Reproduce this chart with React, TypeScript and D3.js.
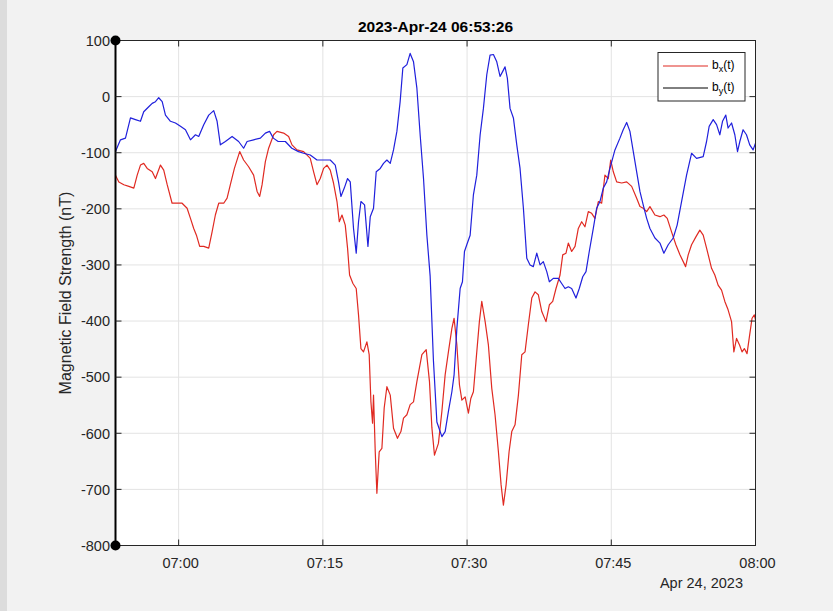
import React from "react";
import * as d3 from "d3";

// minutes after 07:00 on 2023-04-24, and field values in nT
const bxMinutes = [
  -6.57, -6.22, -5.7, -5.18, -4.66, -4.31, -3.97, -3.63, -3.27, -2.75,
  -2.41, -1.89, -1.55, -1.19, -0.68, -0.16, 0.36, 0.88, 1.23, 1.57,
  1.85, 2.19, 2.61, 3.13, 3.48, 3.82, 4.17, 4.69, 5.04, 5.38,
  5.8, 6.35, 6.76, 7.28, 7.8, 8.16, 8.43, 8.68, 9.02, 9.36,
  9.88, 10.23, 10.92, 11.44, 11.79, 12.31, 13.0, 13.69, 14.04, 14.39,
  14.73, 15.08, 15.43, 15.77, 16.11, 16.47, 16.71, 16.99, 17.33, 17.57,
  17.78, 18.13, 18.47, 18.71, 18.96, 19.23, 19.58, 19.82, 20.0, 20.17,
  20.27, 20.45, 20.62, 20.86, 21.14, 21.38, 21.66, 22.01, 22.35, 22.76,
  23.12, 23.39, 23.74, 24.08, 24.43, 24.78, 25.3, 25.75, 26.09, 26.34,
  26.61, 27.02, 27.38, 27.72, 28.06, 28.42, 28.65, 28.94, 29.21, 29.46,
  29.8, 30.14, 30.39, 30.66, 31.01, 31.28, 31.53, 31.88, 32.22, 32.57,
  32.91, 33.26, 33.54, 33.78, 34.06, 34.37, 34.65, 34.99, 35.34, 35.69,
  36.03, 36.37, 36.73, 37.07, 37.41, 37.77, 38.21, 38.56, 38.91, 39.25,
  39.67, 39.95, 40.29, 40.53, 40.88, 41.23, 41.57, 41.92, 42.26, 42.61,
  42.96, 43.3, 43.65, 44.0, 44.34, 44.69, 44.94, 45.21, 45.56, 46.08,
  46.6, 47.12, 47.64, 47.98, 48.32, 48.68, 49.02, 49.54, 50.06, 50.47,
  50.82, 51.27, 51.72, 52.14, 52.73, 53.0, 53.35, 53.8, 54.21, 54.56,
  54.91, 55.43, 55.77, 56.11, 56.47, 56.81, 57.15, 57.51, 57.75, 58.03,
  58.35, 58.6, 58.84, 59.12, 59.39, 59.64, 59.88, 60.0,
];
const bxValues = [
  -140, -152, -157, -160, -163, -140, -122, -119, -128, -134,
  -146, -122, -131, -157, -190, -190, -190, -199, -217, -235,
  -247, -267, -267, -270, -241, -211, -190, -190, -181, -157,
  -128, -98, -113, -125, -140, -169, -178, -157, -116, -92,
  -68, -62, -65, -71, -86, -95, -98, -110, -134, -157,
  -146, -128, -122, -131, -154, -187, -223, -211, -229, -270,
  -318, -333, -342, -389, -449, -455, -437, -460, -544, -582,
  -532, -633, -707, -633, -627, -555, -517, -532, -591, -609,
  -597, -573, -567, -549, -544, -508, -460, -451, -508, -590,
  -639, -618, -561, -496, -455, -413, -395, -443, -514, -541,
  -535, -564, -538, -526, -455, -401, -365, -401, -443, -520,
  -567, -633, -692, -728, -692, -633, -597, -585, -532, -460,
  -455, -407, -359, -348, -353, -383, -401, -371, -365, -342,
  -318, -282, -279, -261, -276, -267, -235, -223, -232, -205,
  -208, -217, -187, -190, -140, -146, -113, -134, -152, -154,
  -152, -160, -181, -196, -199, -205, -196, -211, -214, -211,
  -217, -241, -264, -282, -303, -282, -264, -250, -238, -247,
  -270, -306, -318, -336, -345, -365, -380, -401, -455, -431,
  -443, -455, -449, -458, -425, -395, -389, -398,
];

const byMinutes = [
  -6.57, -6.05, -5.53, -5.01, -4.49, -3.97, -3.63, -3.11, -2.75, -2.41,
  -2.07, -1.71, -1.37, -0.85, -0.33, 0.19, 0.71, 1.23, 1.75, 2.09,
  2.61, 3.13, 3.65, 4.0, 4.34, 4.86, 5.56, 6.24, 6.76, 7.12,
  7.8, 8.5, 9.02, 9.46, 9.85, 10.35, 11.1, 11.77, 12.47, 13.0,
  13.69, 14.39, 15.08, 15.77, 16.29, 16.63, 16.88, 17.23, 17.57, 17.85,
  18.19, 18.47, 18.71, 18.96, 19.34, 19.69, 19.93, 20.27, 20.55, 20.97,
  21.31, 21.66, 22.01, 22.35, 22.7, 23.04, 23.32, 23.74, 24.08, 24.43,
  24.78, 25.12, 25.47, 25.82, 26.16, 26.5, 26.86, 27.38, 27.72, 28.06,
  28.42, 28.65, 28.94, 29.28, 29.52, 29.73, 29.97, 30.32, 30.66, 31.01,
  31.36, 31.7, 32.05, 32.39, 32.74, 33.09, 33.43, 33.71, 33.95, 34.19,
  34.47, 34.82, 35.17, 35.51, 35.86, 36.21, 36.55, 36.89, 37.25, 37.59,
  37.93, 38.29, 38.56, 38.97, 39.49, 39.84, 40.19, 40.53, 40.88, 41.33,
  41.67, 42.03, 42.37, 42.71, 43.13, 43.48, 43.82, 44.17, 44.52, 44.86,
  45.38, 45.9, 46.24, 46.6, 46.94, 47.29, 47.64, 47.98, 48.32, 48.68,
  49.02, 49.54, 50.06, 50.47, 50.92, 51.44, 51.85, 52.31, 52.83, 53.35,
  53.87, 54.56, 54.91, 55.18, 55.6, 55.95, 56.29, 56.57, 56.91, 57.15,
  57.51, 57.85, 58.13, 58.37, 58.71, 59.06, 59.4, 59.75, 60.0,
];
const byValues = [
  -98, -77, -74, -38, -41, -44, -27, -18, -12, -9,
  -2, -9, -33, -44, -47, -53, -59, -77, -68, -71,
  -50, -33, -25, -44, -86, -80, -71, -80, -92, -80,
  -77, -74, -65, -62, -74, -80, -80, -92, -98, -101,
  -104, -113, -113, -113, -122, -152, -178, -163, -146, -152,
  -235, -279, -223, -187, -193, -267, -214, -199, -134, -128,
  -119, -113, -119, -95, -62, -9, 51, 57, 77, 62,
  15, -68, -146, -247, -320, -470, -580, -606, -597, -561,
  -526, -496, -413, -342, -330, -276, -264, -247, -175, -140,
  -68, -21, 39, 74, 75, 62, 36, 45, 53, 33,
  -21, -38, -86, -128, -199, -288, -300, -303, -279, -300,
  -294, -312, -330, -324, -324, -333, -342, -339, -342, -359,
  -342, -321, -312, -276, -235, -199, -187, -163, -152, -128,
  -95, -74, -59, -46, -62, -98, -134, -169, -193, -217,
  -235, -252, -261, -279, -264, -252, -229, -187, -140, -101,
  -110, -107, -80, -53, -41, -50, -68, -44, -33, -56,
  -47, -68, -98, -80, -59, -68, -86, -95, -83,
];

const yTicks = [100, 0, -100, -200, -300, -400, -500, -600, -700, -800];
const titleText = "2023-Apr-24 06:53:26";
const dateText = "Apr 24, 2023";
const yLabel = "Magnetic Field Strength (nT)";

const W = 833;
const H = 611;
const left = 115.5;
const right = 755.5;
const top = 40.5;
const bottom = 545.5;
const font = "'Liberation Sans', Arial, Helvetica, sans-serif";
const axisColor = "#262626";
const tickFont = 14.5;

const base = new Date(2023, 3, 24, 7, 0, 0);
const toDate = (m: number) => new Date(base.getTime() + m * 60000);
const start = new Date(2023, 3, 24, 6, 53, 26);
const end = new Date(2023, 3, 24, 8, 0, 0);

export default function App() {
  const x = d3.scaleTime().domain([start, end]).range([left, right]);
  const y = d3.scaleLinear().domain([-800, 100]).range([bottom, top]);
  const xTicks = d3.timeMinute.every(15)!.range(toDate(0), d3.timeSecond.offset(end, 1));
  const fmt = d3.timeFormat("%H:%M");

  const line = d3
    .line<[number, number]>()
    .x((d) => x(toDate(d[0])))
    .y((d) => y(d[1]));

  const bx = bxMinutes.map((m, i) => [m, bxValues[i]] as [number, number]);
  const by = byMinutes.map((m, i) => [m, byValues[i]] as [number, number]);

  return (
    <svg
      width={W}
      height={H}
      style={{ position: "absolute", left: 0, top: 0, fontFamily: font }}
    >
      <rect x={0} y={0} width={W} height={H} fill="#f2f2f2" />
      <rect x={0} y={0} width={7} height={H} fill="#dcdcdc" />
      <rect x={left} y={top} width={right - left} height={bottom - top} fill="#ffffff" />

      {/* grid */}
      {xTicks.map((t, i) => (
        <line key={"gx" + i} x1={x(t)} x2={x(t)} y1={top} y2={bottom} stroke="#e3e3e3" strokeWidth={1} />
      ))}
      {yTicks.map((v) => (
        <line key={"gy" + v} x1={left} x2={right} y1={y(v)} y2={y(v)} stroke="#e3e3e3" strokeWidth={1} />
      ))}

      {/* series */}
      <path d={line(bx) || ""} fill="none" stroke="#e02a22" strokeWidth={1.2} strokeLinejoin="round" />
      <path d={line(by) || ""} fill="none" stroke="#2020dc" strokeWidth={1.2} strokeLinejoin="round" />

      {/* box and ticks */}
      <rect x={left} y={top} width={right - left} height={bottom - top} fill="none" stroke={axisColor} strokeWidth={1} />
      <line x1={left} x2={left} y1={top} y2={bottom} stroke="#000" strokeWidth={2} />
      {xTicks.map((t, i) => (
        <g key={"tx" + i}>
          <line x1={x(t)} x2={x(t)} y1={bottom} y2={bottom - 6} stroke={axisColor} />
          <line x1={x(t)} x2={x(t)} y1={top} y2={top + 6} stroke={axisColor} />
          <text x={x(t) + 2} y={568} textAnchor="middle" fontSize={tickFont} fill={axisColor}>
            {fmt(t)}
          </text>
        </g>
      ))}
      {yTicks.map((v) => (
        <g key={"ty" + v}>
          <line x1={left} x2={left + 6} y1={y(v)} y2={y(v)} stroke={axisColor} />
          <line x1={right} x2={right - 6} y1={y(v)} y2={y(v)} stroke={axisColor} />
          <text x={110} y={y(v) + 5.3} textAnchor="end" fontSize={tickFont} fill={axisColor}>
            {v}
          </text>
        </g>
      ))}
      <circle cx={left} cy={top} r={5} fill="#000" />
      <circle cx={left} cy={bottom} r={5} fill="#000" />

      <text x={743} y={588} textAnchor="end" fontSize={tickFont} fill={axisColor}>
        {dateText}
      </text>

      <text x={(left + right) / 2} y={31.5} textAnchor="middle" fontSize={15.5} fontWeight="bold" fill="#000">
        {titleText}
      </text>

      <text
        transform={`translate(71,${(top + bottom) / 2}) rotate(-90)`}
        textAnchor="middle"
        fontSize={16}
        fill={axisColor}
      >
        {yLabel}
      </text>

      {/* legend */}
      <rect x={658} y={52.5} width={87} height={48.5} fill="#fff" stroke={axisColor} strokeWidth={1} />
      <line x1={663} x2={708} y1={66} y2={66} stroke="#e02a22" strokeWidth={1.2} />
      <line x1={663} x2={708} y1={88} y2={88} stroke="#000" strokeWidth={1} />
      <text x={712} y={69} fontSize={12} fill="#000">
        b<tspan fontSize={9} dy={3}>x</tspan>
        <tspan dy={-3}>(t)</tspan>
      </text>
      <text x={712} y={91} fontSize={12} fill="#000">
        b<tspan fontSize={9} dy={3}>y</tspan>
        <tspan dy={-3}>(t)</tspan>
      </text>
    </svg>
  );
}
